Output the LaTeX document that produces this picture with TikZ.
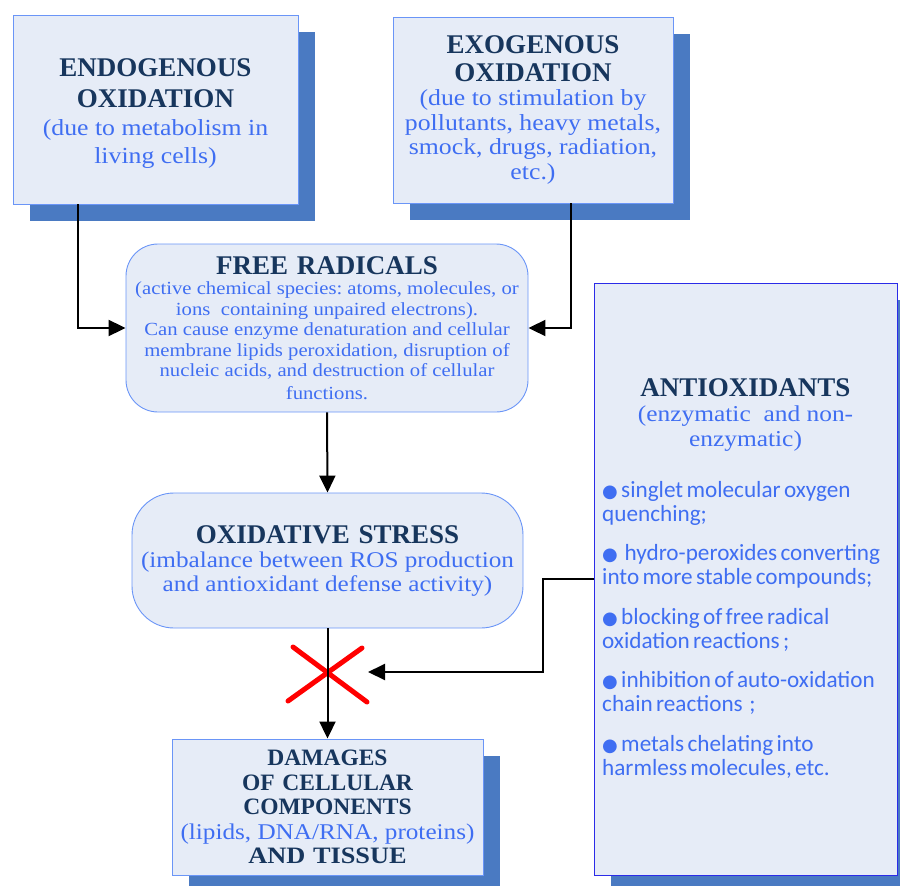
\documentclass[tikz,border=0pt]{standalone}
\usepackage{fontspec}
\setmainfont{Liberation Serif}
\newfontfamily\bluefont{Liberation Serif}[FakeStretch=1.12]
\newfontfamily\calfont{Carlito}
\newfontfamily\dejavu{DejaVu Sans}
\usetikzlibrary{arrows.meta,calc,shadows}
\definecolor{navy}{HTML}{17365D}
\definecolor{tblue}{HTML}{3F6EF2}
\definecolor{boxfill}{HTML}{E6ECF7}
\definecolor{shadowc}{HTML}{4A7AC2}
\definecolor{edge}{HTML}{6A95F7}
\definecolor{darkedge}{HTML}{2B2BE8}
\newcommand{\ttlfont}[1][31]{\fontsize{27}{#1}\selectfont\bfseries\spaceskip=0.33em\color{navy}}
\newcommand{\dttlfont}{\fontsize{23.5}{24.5}\selectfont\bfseries\spaceskip=0.33em\color{navy}}
\newcommand{\bluef}[2][27]{\normalfont\bluefont\fontsize{#2}{#1}\selectfont\spaceskip=0.28em\color{tblue}}
\newcommand{\bul}{{\dejavu\fontsize{18}{15}\selectfont ●}}
\begin{document}
\begin{tikzpicture}[x=1pt,y=-1pt,
  shbox/.style={draw=edge, fill=boxfill, line width=0.9pt, inner sep=0pt, align=center,
     general shadow={fill=shadowc, shadow xshift=17pt, shadow yshift=-17pt}},
  rbox/.style={draw=edge, fill=boxfill, line width=0.9pt, inner sep=0pt, align=center},
  conn/.style={draw=black, line width=2pt, -{Triangle[length=17pt,width=16pt]}},
  cross/.style={draw=red, line width=5pt, line cap=round}]
\useasboundingbox (0,0) rectangle (900,886);
\clip (0,0) rectangle (900,886);

\node[shbox, minimum width=285pt, minimum height=189pt, text width=275pt] (endo) at (155.5,109.5)
  {\ttlfont\rule{0pt}{26pt}ENDOGENOUS\\OXIDATION\par\bluef[28]{23}(due to metabolism in\\living cells)\par};

\node[shbox, minimum width=280pt, minimum height=186pt, text width=272pt] (exo) at (533,110)
  {\ttlfont[28] EXOGENOUS\\OXIDATION\par\bluef[24.5]{23}(due to stimulation by\\pollutants, heavy metals,\\smock, drugs, radiation,\\etc.)\par};

\node[rbox, rounded corners=32pt, minimum width=402pt, minimum height=168pt, text width=395pt] (free) at (327,328)
  {\ttlfont[26] FREE RADICALS\par\bluef[20.5]{18.5}(active chemical species: atoms, molecules, or\\ions~ containing unpaired electrons).\\Can cause enzyme denaturation and cellular\\membrane lipids peroxidation, disruption of\\nucleic acids, and destruction of cellular\\[2pt]functions.\par};

\node[rbox, rounded corners=42pt, minimum width=391pt, minimum height=135pt, text width=385pt] (oxi) at (327.5,560.5)
  {\ttlfont[27] OXIDATIVE STRESS\par\bluef[24]{22.5}(imbalance between ROS production\\and antioxidant defense activity)\par};

\node[shbox, minimum width=311pt, minimum height=136pt, text width=305pt] (dmg) at (327.5,807)
  {\dttlfont DAMAGES\\OF CELLULAR\\COMPONENTS\par\bluef[24.5]{22.5}(lipids, DNA/RNA, proteins)\par\dttlfont AND TISSUE\par};

\node[shbox, draw=darkedge, minimum width=303pt, minimum height=592pt] (anti) at (745.5,579) {};

\node[align=center, inner sep=0pt, text width=295pt] (antititle) at (745.5,415)
  {\ttlfont[27] ANTIOXIDANTS\par\bluef[25]{22.7}(enzymatic~ and non-\\enzymatic)\par};

\node[anchor=north west, inner sep=0pt, text width=295pt, align=left] (antilist) at (602,481)
  {\calfont\fontsize{23.2}{24}\selectfont\color{tblue}%
   \bul\ singlet molecular oxygen\\quenching;\par\vspace{15.5pt}
   \bul\ \ hydro-peroxides converting\\into more stable compounds;\par\vspace{15.5pt}
   \bul\ blocking of free radical\\oxidation reactions ;\par\vspace{15.5pt}
   \bul\ inhibition of auto-oxidation\\chain reactions~ ;\par\vspace{15.5pt}
   \bul\ metals chelating into\\harmless molecules, etc.\par};

\coordinate (xtip) at (368,672);
\draw[cross] (293,647) -- (367,702);
\draw[cross] (362,648) -- (288,701);

\draw[conn] ([xshift=65pt]endo.south west) |- (free.west);
\draw[conn] ([xshift=178pt]exo.south west) |- (free.east);
\draw[conn] (free.south) -- (oxi.north);
\draw[conn] (oxi.south) -- (dmg.north);
\draw[conn] (anti.west) -- ++(-51,0) |- (xtip);
\end{tikzpicture}
\end{document}
